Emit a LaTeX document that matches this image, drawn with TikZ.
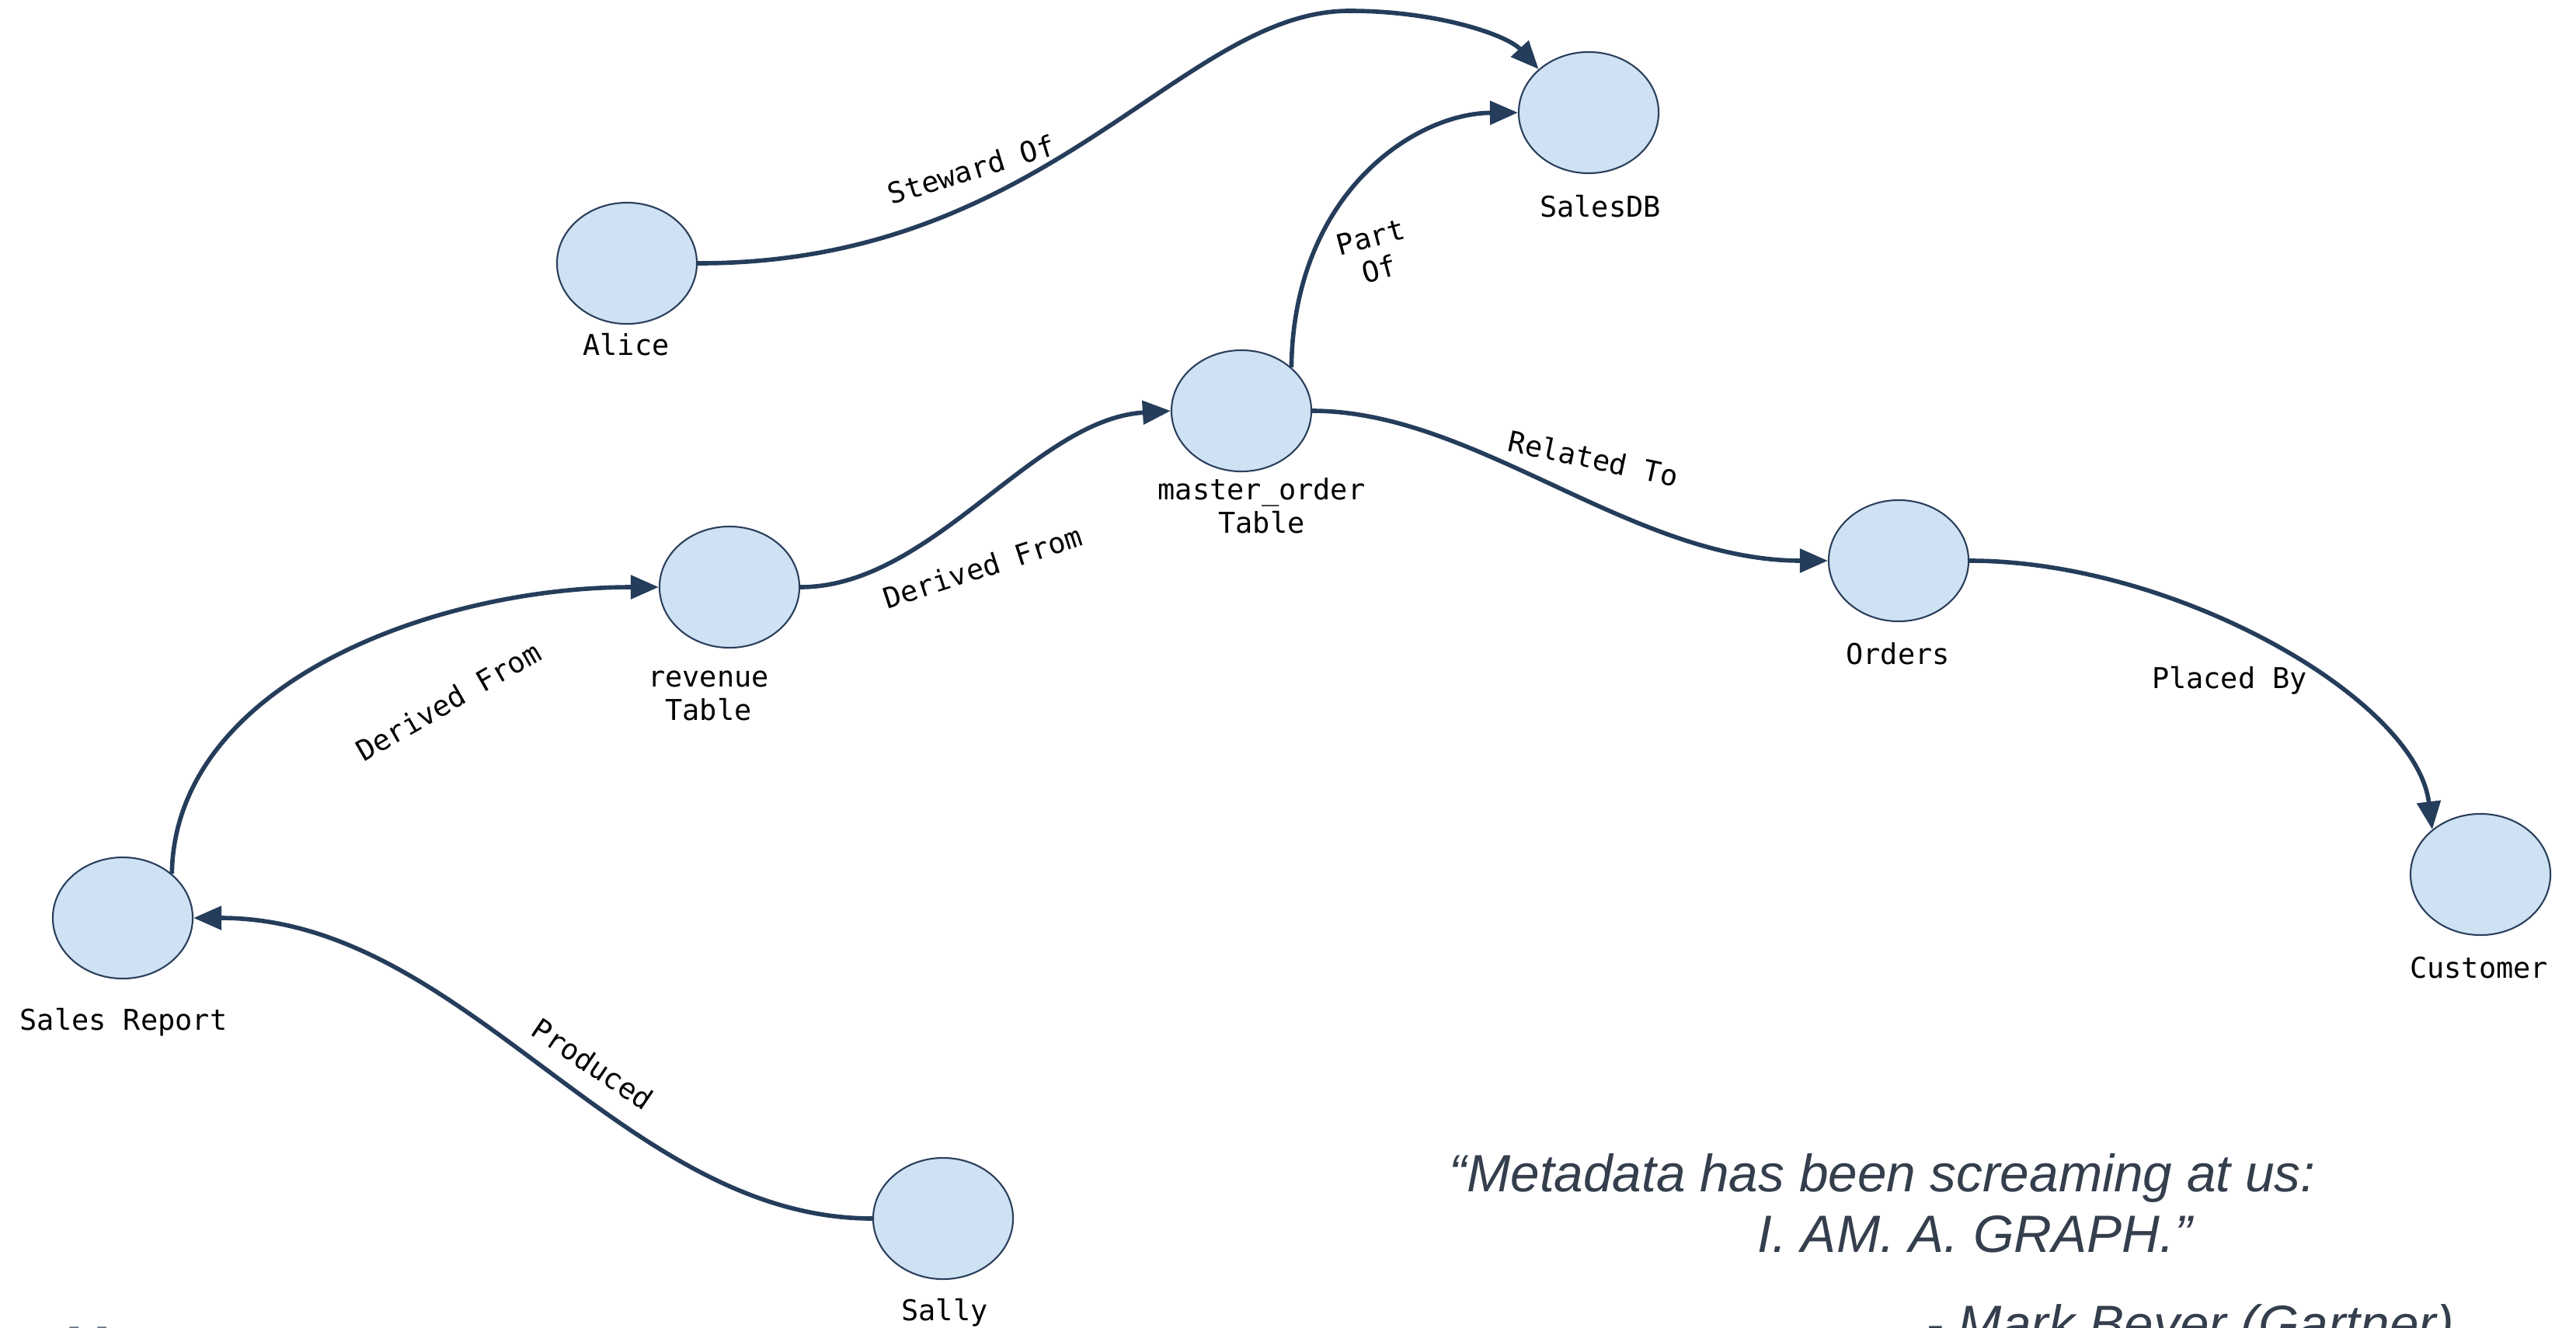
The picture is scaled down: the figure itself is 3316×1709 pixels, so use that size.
\documentclass[tikz,border=0pt]{standalone}
\usepackage{fontspec}
\setmainfont{Liberation Sans}
\setmonofont{DejaVu Sans Mono}
\usetikzlibrary{shapes.geometric,arrows.meta}
\definecolor{nodefill}{RGB}{207,226,243}
\definecolor{nodeborder}{RGB}{43,63,92}
\definecolor{edgecol}{RGB}{37,61,91}
\definecolor{quotecol}{RGB}{52,62,76}
\definecolor{fragcol}{RGB}{95,111,128}
\tikzset{
  ent/.style={ellipse, draw=nodeborder, fill=nodefill, line width=0.6pt,
    minimum width=1.80cm, minimum height=1.56cm, inner sep=0pt},
  lbl/.style={font=\ttfamily\fontsize{10.5}{12.2}\selectfont, align=center, inner sep=0pt},
  elbl/.style={font=\ttfamily\fontsize{10.5}{12.2}\selectfont, align=center, inner sep=0pt},
  rel/.style={draw=edgecol, line width=1.6pt, -{Triangle[length=0.36cm,width=0.30cm]}},
  quote/.style={font=\itshape\fontsize{19.2}{23}\selectfont, text=quotecol, inner sep=0pt, anchor=base west}
}
\begin{document}
\begin{tikzpicture}[x=0.01cm,y=-0.01cm]
\useasboundingbox (0,0) rectangle (3316,1709);
% nodes
\node[ent] (SalesDB) at (2045,145) {};
\node[ent] (Alice) at (807,339) {};
\node[ent] (master) at (1598,529) {};
\node[ent] (revenue) at (939,756) {};
\node[ent] (Orders) at (2444,722) {};
\node[ent] (report) at (158,1182) {};
\node[ent] (Customer) at (3193,1126) {};
\node[ent] (Sally) at (1214,1569) {};
% node labels
\node[lbl] (SalesDBl) at (2060,266) {SalesDB};
\node[lbl] (Alicel) at (806,444) {Alice};
\node[lbl] (masterl) at (1624,651) {master{\char`\_}order\\Table};
\node[lbl] (revenuel) at (912,896) {revenue\\Table};
\node[lbl] (Ordersl) at (2443,842) {Orders};
\node[lbl] (reportl) at (159,1316) {Sales Report};
\node[lbl] (Customerl) at (3191,1246) {Customer};
\node[lbl] (Sallyl) at (1216,1690) {Sally};
% edges
\draw[rel] (Alice.east) .. controls (1350,340) and (1520,14) .. (1737,14)
  .. controls (1850,14) and (1940,45) .. (SalesDB.139);
\draw[rel] (master.41) .. controls (1665,250) and (1820,146) .. (SalesDB.west);
\draw[rel] (revenue.east) .. controls (1200,756) and (1330,540) .. (master.west);
\draw[rel] (report.42) .. controls (225,880) and (560,756) .. (revenue.west);
\draw[rel] (master.east) .. controls (1900,529) and (2100,722) .. (Orders.west);
\draw[rel] (Orders.east) .. controls (2800,722) and (3110,900) .. (Customer.137);
\draw[rel] (Sally.west) .. controls (800,1569) and (600,1182) .. (report.east);
% edge labels
\node[elbl, rotate=17] (l1) at (1250,218) {Steward Of};
\node[elbl, rotate=15] (l2) at (1770,326) {Part\\Of};
\node[elbl, rotate=18] (l3) at (1265,730) {Derived From};
\node[elbl, rotate=30] (l4) at (577,903) {Derived From};
\node[elbl, rotate=-12] (l5) at (2051,590) {Related To};
\node[elbl] (l6) at (2870,876) {Placed By};
\node[elbl, rotate=-34] (l7) at (763,1370) {Produced};
% quote
\node[quote] (q1) at (1865,1534) {“Metadata has been screaming at us:};
\node[quote] (q2) at (2262,1612) {I. AM. A. GRAPH.”};
\node[quote] (q3) at (2479,1728) {- Mark Beyer (Gartner)};
\node[font=\bfseries\fontsize{23}{26}\selectfont, text=fragcol, inner sep=0pt, anchor=base west] (frag) at (84,1764) {H};
\end{tikzpicture}
\end{document}
